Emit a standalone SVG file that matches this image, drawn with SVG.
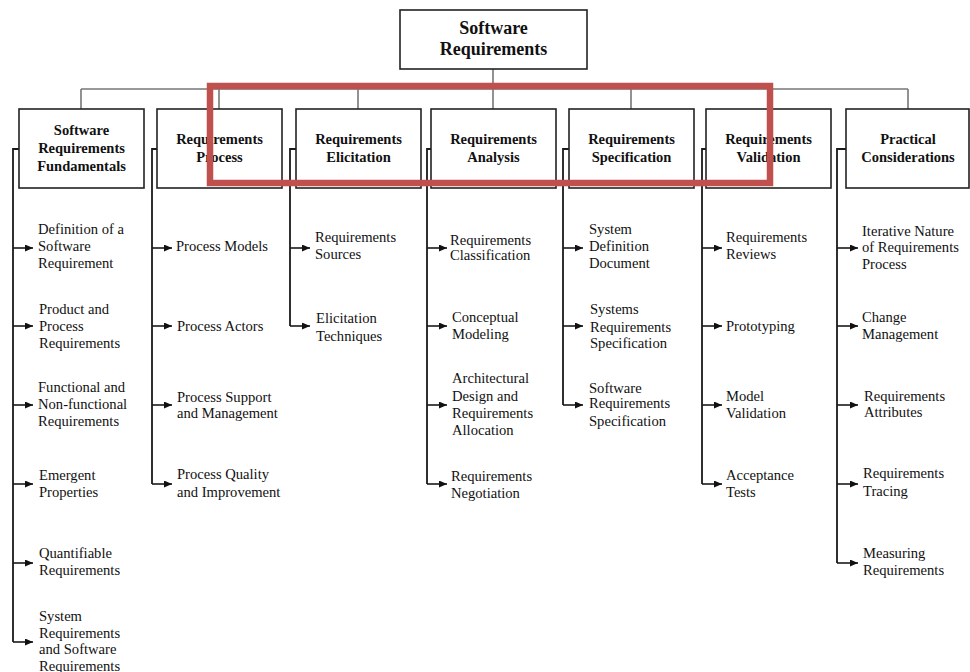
<svg xmlns="http://www.w3.org/2000/svg" width="970" height="672" viewBox="0 0 970 672">
<defs>
<marker id="arr" markerWidth="9" markerHeight="8" refX="8" refY="3.5" orient="auto" markerUnits="userSpaceOnUse">
<path d="M0,0 L8,3.5 L0,7 z" fill="#111"/>
</marker>
<style>
.box{fill:#fff;stroke:#222;stroke-width:1.6}
.bus{fill:none;stroke:#777;stroke-width:1.6}
.trunk{fill:none;stroke:#1a1a1a;stroke-width:1.8}
line{stroke:#1a1a1a;stroke-width:1.6;marker-end:url(#arr)}
.h{font-family:"Liberation Serif","Times New Roman",serif;font-weight:bold;font-size:14.5px;fill:#111;text-anchor:middle}
.top{font-family:"Liberation Serif","Times New Roman",serif;font-weight:bold;font-size:18px;fill:#111;text-anchor:middle}
.t{font-family:"Liberation Serif","Times New Roman",serif;font-size:14.6px;fill:#111}
</style>
</defs>
<rect width="970" height="672" fill="#fff"/>

<g id="connectors">
<path class="bus" d="M81,89 H908 M493,69 V109 M81,89 V109 M219,89 V109 M358,89 V109 M631,89 V109 M768,89 V109 M908,89 V109"/>
<path class="trunk" d="M19,149 H13 V642 M157,149 H152 V484 M296,149 H290 V326 M431,149 H427 V484 M569,149 H563 V405 M706,149 H702 V484 M846,149 H837 V563"/>
<line x1="13" y1="248" x2="33" y2="248"/><line x1="13" y1="326" x2="33" y2="326"/><line x1="13" y1="405" x2="33" y2="405"/><line x1="13" y1="484" x2="33" y2="484"/><line x1="13" y1="563" x2="33" y2="563"/><line x1="13" y1="642" x2="33" y2="642"/>
<line x1="152" y1="248" x2="172" y2="248"/><line x1="152" y1="326" x2="172" y2="326"/><line x1="152" y1="405" x2="172" y2="405"/><line x1="152" y1="484" x2="172" y2="484"/>
<line x1="290" y1="248" x2="310" y2="248"/><line x1="290" y1="326" x2="310" y2="326"/>
<line x1="427" y1="248" x2="447" y2="248"/><line x1="427" y1="326" x2="447" y2="326"/><line x1="427" y1="405" x2="447" y2="405"/><line x1="427" y1="484" x2="447" y2="484"/>
<line x1="563" y1="248" x2="583" y2="248"/><line x1="563" y1="326" x2="583" y2="326"/><line x1="563" y1="405" x2="583" y2="405"/>
<line x1="702" y1="248" x2="722" y2="248"/><line x1="702" y1="326" x2="722" y2="326"/><line x1="702" y1="405" x2="722" y2="405"/><line x1="702" y1="484" x2="722" y2="484"/>
<line x1="837" y1="248" x2="858" y2="248"/><line x1="837" y1="326" x2="858" y2="326"/><line x1="837" y1="405" x2="858" y2="405"/><line x1="837" y1="484" x2="858" y2="484"/><line x1="837" y1="563" x2="858" y2="563"/>
</g>

<g id="root">
<rect class="box" x="400" y="10" width="187" height="59"/>
<text class="top" x="493.5" y="34">Software</text>
<text class="top" x="493.5" y="55">Requirements</text>
</g>

<g id="h1"><rect class="box" x="19" y="109" width="125" height="79"/>
<text class="h" x="81.5" y="135">Software</text><text class="h" x="81.5" y="153">Requirements</text><text class="h" x="81.5" y="171">Fundamentals</text></g>
<g id="h2"><rect class="box" x="157" y="109" width="125" height="79"/>
<text class="h" x="219.5" y="144">Requirements</text><text class="h" x="219.5" y="162">Process</text></g>
<g id="h3"><rect class="box" x="296" y="109" width="125" height="79"/>
<text class="h" x="358.5" y="144">Requirements</text><text class="h" x="358.5" y="162">Elicitation</text></g>
<g id="h4"><rect class="box" x="431" y="109" width="125" height="79"/>
<text class="h" x="493.5" y="144">Requirements</text><text class="h" x="493.5" y="162">Analysis</text></g>
<g id="h5"><rect class="box" x="569" y="109" width="125" height="79"/>
<text class="h" x="631.5" y="144">Requirements</text><text class="h" x="631.5" y="162">Specification</text></g>
<g id="h6"><rect class="box" x="706" y="109" width="125" height="79"/>
<text class="h" x="768.5" y="144">Requirements</text><text class="h" x="768.5" y="162">Validation</text></g>
<g id="h7"><rect class="box" x="846" y="109" width="123" height="79"/>
<text class="h" x="908" y="144">Practical</text><text class="h" x="908" y="162">Considerations</text></g>

<g id="c1">
<text class="t" x="38" y="234">Definition of a</text><text class="t" x="38" y="251">Software</text><text class="t" x="38" y="268">Requirement</text>
<text class="t" x="39" y="314">Product and</text><text class="t" x="39" y="331">Process</text><text class="t" x="39" y="348">Requirements</text>
<text class="t" x="38" y="392">Functional and</text><text class="t" x="38" y="409">Non-functional</text><text class="t" x="38" y="426">Requirements</text>
<text class="t" x="39" y="480">Emergent</text><text class="t" x="39" y="497">Properties</text>
<text class="t" x="39" y="558">Quantifiable</text><text class="t" x="39" y="575">Requirements</text>
<text class="t" x="39" y="621">System</text><text class="t" x="39" y="638">Requirements</text><text class="t" x="39" y="654">and Software</text><text class="t" x="39" y="671">Requirements</text>
</g>
<g id="c2">
<text class="t" x="176" y="251">Process Models</text>
<text class="t" x="177" y="331">Process Actors</text>
<text class="t" x="177" y="402">Process Support</text><text class="t" x="177" y="418">and Management</text>
<text class="t" x="177" y="479">Process Quality</text><text class="t" x="177" y="497">and Improvement</text>
</g>
<g id="c3">
<text class="t" x="315" y="242">Requirements</text><text class="t" x="315" y="259">Sources</text>
<text class="t" x="316" y="323">Elicitation</text><text class="t" x="316" y="341">Techniques</text>
</g>
<g id="c4">
<text class="t" x="450" y="245">Requirements</text><text class="t" x="450" y="260">Classification</text>
<text class="t" x="452" y="322">Conceptual</text><text class="t" x="452" y="339">Modeling</text>
<text class="t" x="452" y="383">Architectural</text><text class="t" x="452" y="401">Design and</text><text class="t" x="452" y="418">Requirements</text><text class="t" x="452" y="435">Allocation</text>
<text class="t" x="451" y="481">Requirements</text><text class="t" x="451" y="498">Negotiation</text>
</g>
<g id="c5">
<text class="t" x="589" y="234">System</text><text class="t" x="589" y="251">Definition</text><text class="t" x="589" y="268">Document</text>
<text class="t" x="590" y="314">Systems</text><text class="t" x="590" y="332">Requirements</text><text class="t" x="590" y="348">Specification</text>
<text class="t" x="589" y="393">Software</text><text class="t" x="589" y="408">Requirements</text><text class="t" x="589" y="426">Specification</text>
</g>
<g id="c6">
<text class="t" x="726" y="242">Requirements</text><text class="t" x="726" y="259">Reviews</text>
<text class="t" x="726" y="331">Prototyping</text>
<text class="t" x="726" y="401">Model</text><text class="t" x="726" y="418">Validation</text>
<text class="t" x="726" y="480">Acceptance</text><text class="t" x="726" y="497">Tests</text>
</g>
<g id="c7">
<text class="t" x="862" y="236">Iterative Nature</text><text class="t" x="862" y="252">of Requirements</text><text class="t" x="862" y="269">Process</text>
<text class="t" x="862" y="322">Change</text><text class="t" x="862" y="339">Management</text>
<text class="t" x="864" y="401">Requirements</text><text class="t" x="864" y="417">Attributes</text>
<text class="t" x="863" y="478">Requirements</text><text class="t" x="863" y="496">Tracing</text>
<text class="t" x="863" y="558">Measuring</text><text class="t" x="863" y="575">Requirements</text>
</g>

<rect id="highlight" x="210" y="86" width="560" height="97" fill="none" stroke="#C0504D" stroke-width="6.5"/>
</svg>
